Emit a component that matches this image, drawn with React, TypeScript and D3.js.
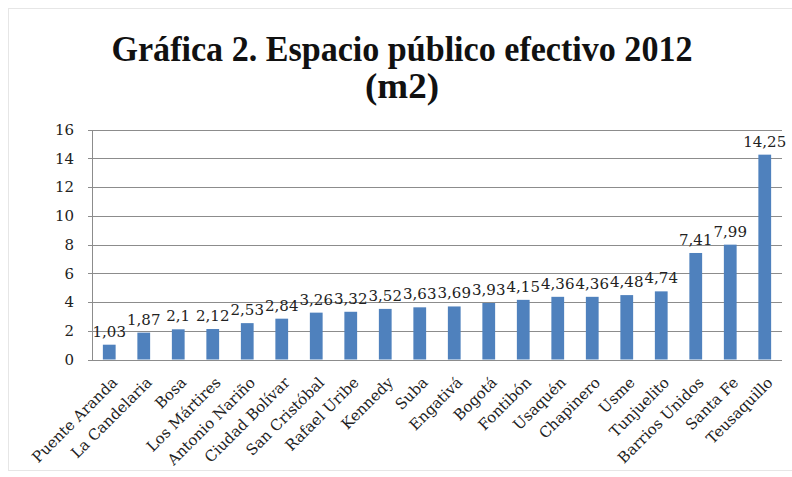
import React from "react";
import * as d3 from "d3";

const categories = [
  "Puente Aranda", "La Candelaria", "Bosa", "Los Mártires", "Antonio Nariño",
  "Ciudad Bolívar", "San Cristóbal", "Rafael Uribe", "Kennedy", "Suba",
  "Engativá", "Bogotá", "Fontibón", "Usaquén", "Chapinero", "Usme",
  "Tunjuelito", "Barrios Unidos", "Santa Fe", "Teusaquillo",
];
const values = [
  1.03, 1.87, 2.1, 2.12, 2.53, 2.84, 3.26, 3.32, 3.52, 3.63, 3.69, 3.93,
  4.15, 4.36, 4.36, 4.48, 4.74, 7.41, 7.99, 14.25,
];
const yTicks = [0, 2, 4, 6, 8, 10, 12, 14, 16];
const titleLines = ["Gráfica 2. Espacio público efectivo 2012", "(m2)"];

const W = 792;
const H = 477;
const plot = { left: 92, right: 782, top: 129.5, bottom: 359.5 };
const fmt = (v: number) => String(v).replace(".", ",");

export default function App() {
  const x = d3
    .scaleBand<string>()
    .domain(categories)
    .range([plot.left, plot.right])
    .paddingInner(0.63)
    .paddingOuter(0.315);
  const y = d3.scaleLinear().domain([0, 16]).range([plot.bottom, plot.top]);
  const font = "'DejaVu Serif', serif";

  return (
    <svg
      width={W}
      height={H}
      style={{ position: "absolute", left: 0, top: 0, background: "#fff" }}
    >
      <rect x={8.5} y={8.5} width={W} height={462} fill="none" stroke="#e6e6e6" />
      <text
        x={402}
        y={61}
        textAnchor="middle"
        fontFamily="'Liberation Serif', serif"
        fontWeight="bold"
        fontSize={36}
        textLength={581}
        lengthAdjust="spacingAndGlyphs"
        fill="#111"
      >
        {titleLines[0]}
      </text>
      <text
        x={402}
        y={98}
        textAnchor="middle"
        fontFamily="'Liberation Serif', serif"
        fontWeight="bold"
        fontSize={36}
        textLength={74}
        lengthAdjust="spacingAndGlyphs"
        fill="#111"
      >
        {titleLines[1]}
      </text>
      {yTicks.map((t) => (
        <g key={t}>
          <line
            x1={plot.left - 4}
            x2={plot.right}
            y1={Math.round(y(t)) + 0.5}
            y2={Math.round(y(t)) + 0.5}
            stroke="#8c8c8c"
            strokeWidth={1}
          />
          <text
            x={74}
            y={y(t)}
            dy="0.36em"
            textAnchor="end"
            fontFamily={font}
            fontSize={15}
            fill="#222"
          >
            {t}
          </text>
        </g>
      ))}
      <line
        x1={plot.left + 0.5}
        x2={plot.left + 0.5}
        y1={Math.round(y(16))}
        y2={Math.round(y(0)) + 1}
        stroke="#8c8c8c"
        strokeWidth={1}
      />
      {categories.map((c, i) => {
        const bx = x(c)!;
        const cx = bx + x.bandwidth() / 2;
        return (
          <g key={c}>
            <rect
              x={bx}
              y={y(values[i])}
              width={x.bandwidth()}
              height={y(0) - y(values[i])}
              fill="#4f81bd"
            />
            <text
              x={cx}
              y={y(values[i]) - 8}
              textAnchor="middle"
              fontFamily={font}
              fontSize={15}
              fill="#222"
            >
              {fmt(values[i])}
            </text>
            <text
              transform={`translate(${cx + 9},${plot.bottom + 24}) rotate(-45)`}
              textAnchor="end"
              fontFamily={font}
              fontSize={15}
              fill="#222"
            >
              {c}
            </text>
          </g>
        );
      })}
    </svg>
  );
}
